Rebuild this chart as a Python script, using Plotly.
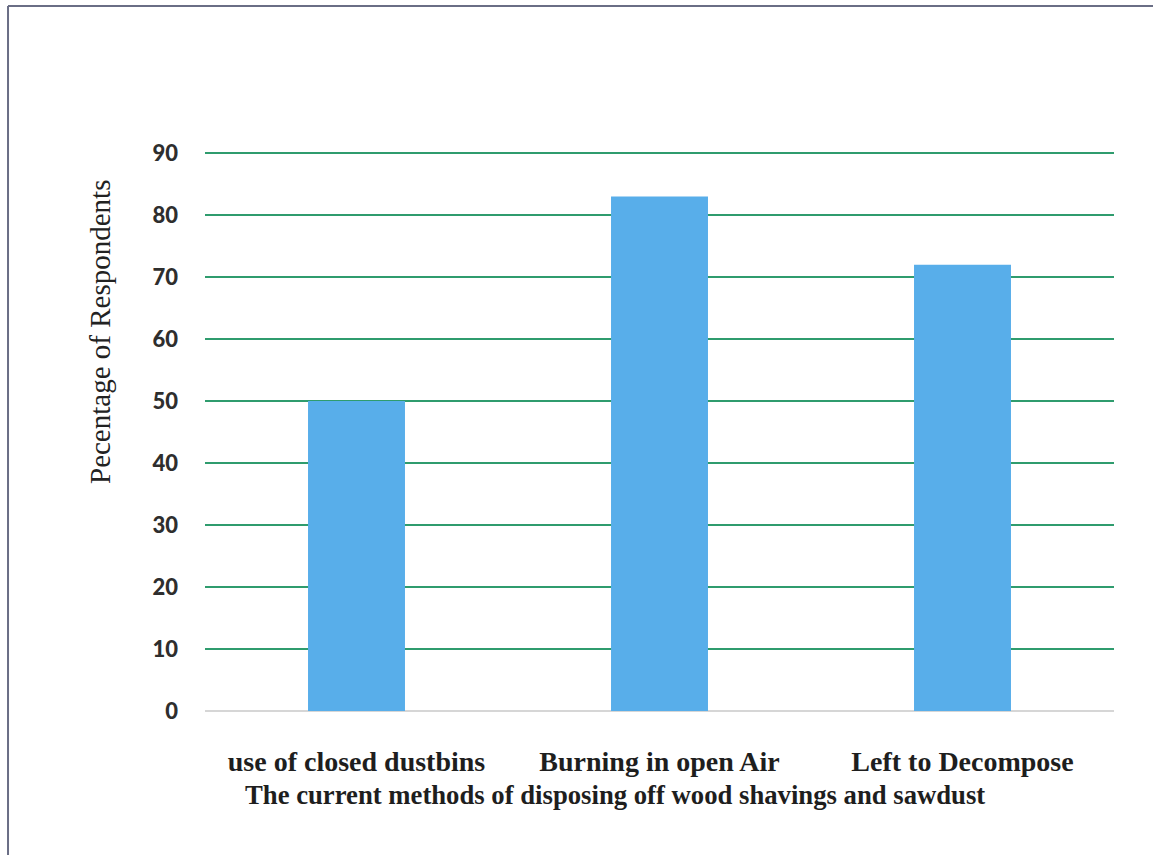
import plotly.graph_objects as go

# Disposal methods and share of respondents (%)
methods = ["use of closed dustbins", "Burning in open Air", "Left to Decompose"]
percentages = [50, 83, 72]
y_ticks = [0, 10, 20, 30, 40, 50, 60, 70, 80, 90]

bar_color = "#58aeea"
grid_color = "#2f9c6e"
border_color = "#6a6e85"

fig = go.Figure()
fig.add_trace(go.Bar(
    x=methods,
    y=percentages,
    marker=dict(color=bar_color, line=dict(width=0)),
    width=0.32,
))

fig.update_layout(
    width=1153,
    height=855,
    margin=dict(l=205, r=39, t=147, b=144),
    paper_bgcolor="white",
    plot_bgcolor="white",
    showlegend=False,
    xaxis=dict(
        showgrid=False,
        showline=False,
        ticks="",
        ticklabelstandoff=31,
        tickfont=dict(family="Liberation Serif", size=28, color="#1e1e1e", weight="bold"),
    ),
    yaxis=dict(
        range=[0, 91],
        tickvals=y_ticks,
        showgrid=True,
        gridcolor=grid_color,
        gridwidth=1.5,
        zeroline=True,
        zerolinecolor="#d6d6d6",
        zerolinewidth=1.5,
        showline=False,
        ticks="",
        ticklabelstandoff=26,
        tickfont=dict(family="Lato", size=22, color="#2e2e2e", weight=900),
    ),
    annotations=[
        dict(
            text="Pecentage of Respondents",
            xref="paper", yref="paper",
            x=-0.1155, y=0.672,
            xanchor="center", yanchor="middle",
            textangle=-90, showarrow=False,
            font=dict(family="Liberation Serif", size=29, color="#222222"),
        ),
        dict(
            text="The current methods of disposing off wood shavings and sawdust",
            xref="paper", yref="paper",
            x=0.451, y=-0.149,
            xanchor="center", yanchor="middle",
            showarrow=False,
            font=dict(family="Liberation Serif", size=26.7, color="#1e1e1e", weight="bold"),
        ),
    ],
    shapes=[
        dict(type="line", xref="paper", yref="paper",
             x0=-0.2167, x1=1.05, y0=1.25, y1=1.25,
             line=dict(color=border_color, width=2)),
        dict(type="line", xref="paper", yref="paper",
             x0=-0.2167, x1=-0.2167, y0=1.25, y1=-0.26,
             line=dict(color=border_color, width=2)),
    ],
)

fig.write_html("out.html")
